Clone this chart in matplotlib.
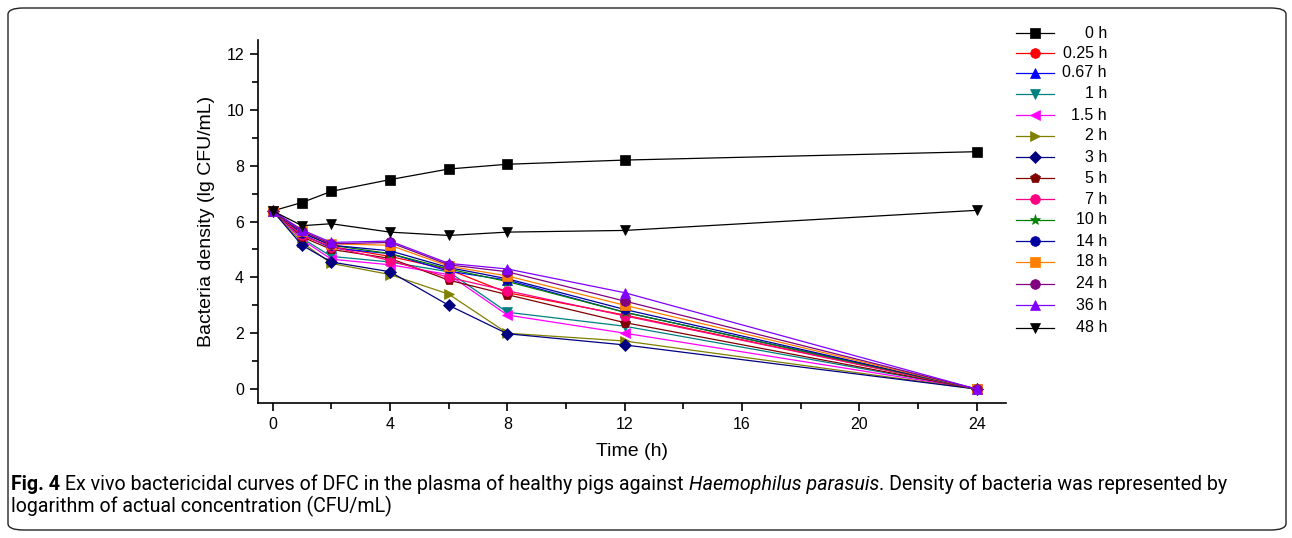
import matplotlib
matplotlib.use("Agg")
import matplotlib.pyplot as plt
from matplotlib.lines import Line2D
from matplotlib.patches import FancyBboxPatch
from matplotlib.ticker import MultipleLocator

times = [0, 1, 2, 4, 6, 8, 12, 24]
series_labels = ["0 h", "0.25 h", "0.67 h", "1 h", "1.5 h", "2 h", "3 h", "5 h",
                 "7 h", "10 h", "14 h", "18 h", "24 h", "36 h", "48 h"]
v_0h   = [6.38, 6.68, 7.08, 7.50, 7.88, 8.05, 8.20, 8.50]
v_025h = [6.38, 5.50, 5.10, 4.75, 4.28, 3.45, 2.65, 0.0]
v_067h = [6.38, 5.55, 5.05, 4.85, 4.22, 3.90, 2.75, 0.0]
v_1h   = [6.38, 5.40, 4.75, 4.55, 4.20, 2.75, 2.25, 0.0]
v_15h  = [6.38, 5.35, 4.65, 4.45, 4.10, 2.65, 2.00, 0.0]
v_2h   = [6.38, 5.25, 4.50, 4.10, 3.40, 2.00, 1.72, 0.0]
v_3h   = [6.38, 5.15, 4.55, 4.20, 3.00, 1.98, 1.58, 0.0]
v_5h   = [6.38, 5.45, 5.00, 4.68, 3.90, 3.38, 2.38, 0.0]
v_7h   = [6.38, 5.50, 5.10, 4.60, 4.00, 3.52, 2.62, 0.0]
v_10h  = [6.38, 5.60, 5.15, 4.85, 4.30, 3.85, 2.75, 0.0]
v_14h  = [6.38, 5.60, 5.15, 4.95, 4.35, 3.95, 2.85, 0.0]
v_18h  = [6.38, 5.65, 5.20, 5.15, 4.40, 4.05, 3.00, 0.0]
v_24h  = [6.38, 5.65, 5.20, 5.25, 4.45, 4.20, 3.15, 0.0]
v_36h  = [6.38, 5.70, 5.25, 5.30, 4.50, 4.30, 3.45, 0.0]
v_48h  = [6.38, 5.85, 5.92, 5.62, 5.50, 5.62, 5.68, 6.40]
values = [v_0h, v_025h, v_067h, v_1h, v_15h, v_2h, v_3h, v_5h, v_7h, v_10h,
          v_14h, v_18h, v_24h, v_36h, v_48h]

x_ticks = [0, 4, 8, 12, 16, 20, 24]
y_ticks = [0, 2, 4, 6, 8, 10, 12]

colors = ["#000000", "#FF0000", "#0000FF", "#008080", "#FF00FF", "#808000",
          "#000080", "#800000", "#FF0080", "#008000", "#0000A0", "#FF8000",
          "#800080", "#8000FF", "#000000"]
markers = ["s", "o", "^", "v", "<", ">", "D", "p", "o", "*", "o", "s", "o", "^", "v"]
msizes = [7, 7, 7, 7, 7, 7, 6.5, 7.5, 7, 8, 7, 7, 7, 7, 7]

W, H = 1292, 538
fig = plt.figure(figsize=(W / 100, H / 100), dpi=100)

# rounded frame
frame = FancyBboxPatch((8 / W, 8 / H), (W - 14) / W, (H - 16) / H,
                       boxstyle="round,pad=0,rounding_size=0.012",
                       transform=fig.transFigure, facecolor="none",
                       edgecolor="#222222", linewidth=1.0)
fig.patches.append(frame)

ax = fig.add_axes([258 / W, 1 - 403 / H, (1006 - 258) / W, (403 - 40) / H])
for vals, c, m, ms in zip(values, colors, markers, msizes):
    ax.plot(times, vals, color=c, marker=m, markersize=ms, linewidth=0.9,
            markeredgewidth=0.5, markeredgecolor=c)

ax.set_xlim(-0.5, 25)
ax.set_ylim(-0.5, 12.5)
ax.set_xticks(x_ticks)
ax.set_yticks(y_ticks)
ax.xaxis.set_minor_locator(MultipleLocator(2))
ax.yaxis.set_minor_locator(MultipleLocator(1))
for s in ["top", "right"]:
    ax.spines[s].set_visible(False)
for s in ["left", "bottom"]:
    ax.spines[s].set_linewidth(1.2)
ax.tick_params(which="major", direction="out", length=6, width=1.2,
               labelsize=11.5, pad=4)
ax.tick_params(which="minor", direction="out", length=4, width=1.2)
for lab in ax.get_xticklabels() + ax.get_yticklabels():
    lab.set_fontfamily("Liberation Sans")
ax.set_xlabel("Time (h)", fontsize=14, family="Liberation Sans", labelpad=8)
ax.set_ylabel("Bacteria density (lg CFU/mL)", fontsize=14,
              family="Liberation Sans", labelpad=8)

# legend (manual, right-aligned labels)
row_y = [33, 53, 73, 94, 115, 136, 157, 178, 199, 220, 241, 262, 284, 305, 328]
for lab, c, m, ms, yy in zip(series_labels, colors, markers, msizes, row_y):
    fy = 1 - yy / H
    fig.add_artist(Line2D([1016 / W, 1054 / W], [fy, fy], color=c, linewidth=0.9,
                          transform=fig.transFigure))
    fig.add_artist(Line2D([1035 / W], [fy], color=c, marker=m, markersize=ms,
                          markeredgewidth=0.5, transform=fig.transFigure))
    fig.text(1107 / W, fy, lab, ha="right", va="center", fontsize=11.5,
             family="Liberation Sans")

# caption: fit first line to the reference width
cap_font = "Roboto"
parts = [("Fig. 4", dict(weight="bold")),
         (" Ex vivo bactericidal curves of DFC in the plasma of healthy pigs against ", {}),
         ("Haemophilus parasuis", dict(style="italic")),
         (". Density of bacteria was represented by", {})]
line2 = "logarithm of actual concentration (CFU/mL)"
x0, x_end, y1, y2 = 11, 1228, 484, 506

r = fig.canvas.get_renderer()

def place(cs):
    arts = []
    x = x0
    for txt, kw in parts:
        t = fig.text(x / W, 1 - y1 / H, txt, fontsize=cs, family=cap_font,
                     va="center", **kw)
        bb = t.get_window_extent(r)
        x = bb.x1
        arts.append(t)
    return arts, x

arts, xe = place(10)
for a in arts:
    a.remove()
cs = 10 * (x_end - x0) / (xe - x0)
arts, xe = place(cs)
fig.text(x0 / W, 1 - y2 / H, line2, fontsize=cs, family=cap_font, va="center")

fig.savefig("out.png", dpi=100)
